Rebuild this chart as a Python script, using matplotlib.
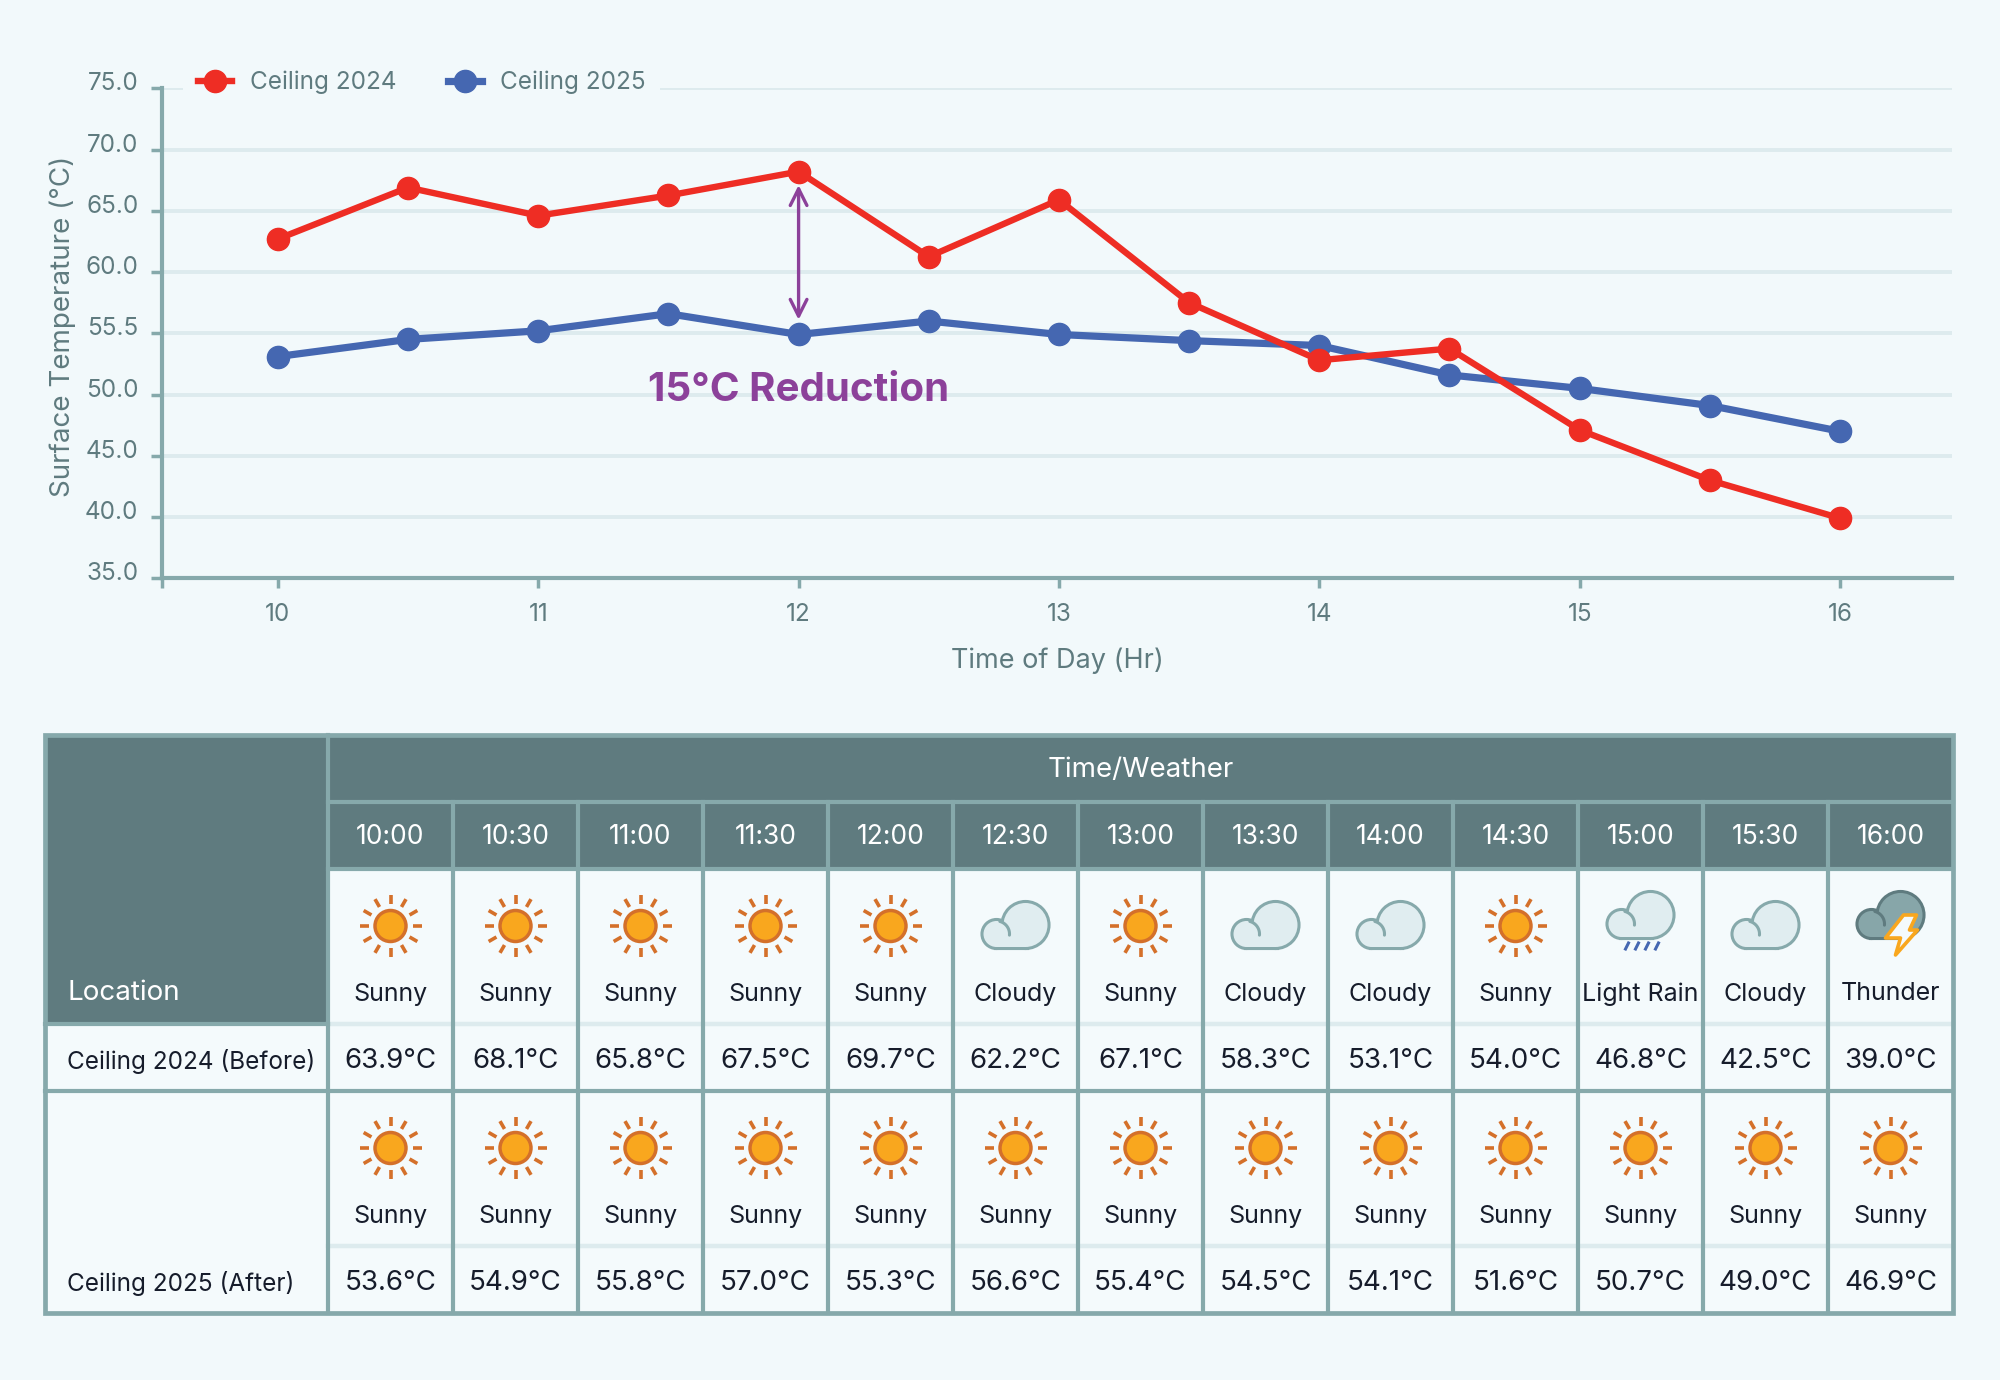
import numpy as np
import matplotlib
matplotlib.use("Agg")
import matplotlib.pyplot as plt
import matplotlib.transforms as mtransforms
from matplotlib.patches import Rectangle, Circle, Polygon

plt.rcParams['font.family'] = ['Inter', 'DejaVu Sans']

# --- dane wykresu ---
hours = [10, 10.5, 11, 11.5, 12, 12.5, 13, 13.5, 14, 14.5, 15, 15.5, 16]
curve_2024 = [62.7, 66.9, 64.6, 66.25, 68.2, 61.25, 65.9, 57.5, 52.8, 53.75, 47.1, 43.0, 39.9]
curve_2025 = [53.1, 54.5, 55.2, 56.6, 54.9, 56.0, 54.9, 54.4, 54.0, 51.6, 50.5, 49.1, 47.0]
series_names = ['Ceiling 2024', 'Ceiling 2025']

y_ticks = [35, 40, 45, 50, 55, 60, 65, 70, 75]
y_tick_labels = ['35.0', '40.0', '45.0', '50.0', '55.5', '60.0', '65.0', '70.0', '75.0']
x_ticks = [10, 11, 12, 13, 14, 15, 16]

arrow_hour = 12
arrow_span = (67.1, 56.1)
arrow_text = '15°C Reduction'

# --- dane tabeli ---
time_labels = ['10:00', '10:30', '11:00', '11:30', '12:00', '12:30', '13:00',
               '13:30', '14:00', '14:30', '15:00', '15:30', '16:00']
weather_2024 = ['Sunny', 'Sunny', 'Sunny', 'Sunny', 'Sunny', 'Cloudy', 'Sunny',
                'Cloudy', 'Cloudy', 'Sunny', 'Light Rain', 'Cloudy', 'Thunder']
weather_2025 = ['Sunny'] * 13
temps_2024 = [63.9, 68.1, 65.8, 67.5, 69.7, 62.2, 67.1, 58.3, 53.1, 54.0, 46.8, 42.5, 39.0]
temps_2025 = [53.6, 54.9, 55.8, 57.0, 55.3, 56.6, 55.4, 54.5, 54.1, 51.6, 50.7, 49.0, 46.9]
row_labels = ['Ceiling 2024 (Before)', 'Ceiling 2025 (After)']

# --- kolory ---
BG = '#F2F9FB'
CELL = '#F4FAFC'
GREY = '#5F7B7F'
SPINE = '#86A9AB'
GRID = '#DDEBEE'
RED = '#EE2D24'
BLUE = '#4567B1'
PURPLE = '#8C419A'
DARK = '#161C2B'
SUN_FILL = '#F9A71E'
SUN_EDGE = '#D4702A'

fig = plt.figure(figsize=(20, 13.8), dpi=100, facecolor=BG)

# ============ wykres ============
ax = fig.add_axes([0.081, 0.581, 0.895, 0.355])
ax.set_facecolor(BG)
ax.plot(hours, curve_2024, '-o', color=RED, lw=4.6, ms=16, label=series_names[0], zorder=4)
ax.plot(hours, curve_2025, '-o', color=BLUE, lw=5.2, ms=16, label=series_names[1], zorder=3)

ax.set_xlim(9.555, 16.43)
ax.set_ylim(35, 75)
ax.set_yticks(y_ticks)
ax.set_yticklabels(y_tick_labels)
ax.set_xticks([9.555] + x_ticks)
ax.set_xticklabels([''] + [str(h) for h in x_ticks])
ax.tick_params(axis='y', colors=SPINE, labelcolor=GREY, labelsize=17.5, length=8, width=2.5, pad=9)
ax.tick_params(axis='x', colors=SPINE, labelcolor=GREY, labelsize=17.5, length=7, width=2.5, pad=11)
ax.yaxis.grid(True, color=GRID, lw=2.8)
ax.set_axisbelow(True)
for s in ['top', 'right']:
    ax.spines[s].set_visible(False)
for s in ['left', 'bottom']:
    ax.spines[s].set_color(SPINE)
    ax.spines[s].set_linewidth(3)

shift = mtransforms.ScaledTranslation(0, 0.07, fig.dpi_scale_trans)
for lab in ax.get_yticklabels():
    lab.set_transform(lab.get_transform() + shift)

ax.set_xlabel('Time of Day (Hr)', fontsize=19.5, color=GREY, labelpad=15)
ax.set_ylabel('Surface Temperature (°C)', fontsize=20, color=GREY)
ax.yaxis.set_label_coords(-0.048, 0.515)

ax.annotate('', xy=(arrow_hour, arrow_span[1]), xytext=(arrow_hour, arrow_span[0]),
            arrowprops=dict(arrowstyle='<->', color=PURPLE, lw=2.4, mutation_scale=30,
                            shrinkA=0, shrinkB=0), zorder=5)
ax.text(arrow_hour, 49.45, arrow_text, color=PURPLE, fontsize=29, fontweight='bold',
        ha='center', va='baseline', zorder=5)

leg = ax.legend(loc='center left', bbox_to_anchor=(0.012, 1.012), ncol=2, frameon=True,
                facecolor=BG, edgecolor='none', framealpha=1, fontsize=17.5,
                handlelength=1.4, handletextpad=0.75, columnspacing=2.1,
                borderpad=0.6, borderaxespad=0)
for t in leg.get_texts():
    t.set_color(GREY)
leg.set_zorder(6)

# ============ tabela ============
tx = fig.add_axes([0, 0, 1, 1], zorder=-1)
tx.set_xlim(0, 2000)
tx.set_ylim(1380, 0)
tx.axis('off')
tx.patch.set_alpha(0)

x0, xl, cw = 45, 328, 125
ncol = len(time_labels)
x1 = xl + ncol * cw
y_top, y_h1, y_h2 = 735, 802, 869
row_h = 222
y_rows = [y_h2, y_h2 + row_h]       # gorne krawedzie blokow
y_sep = [1024, 1024 + row_h]        # linia miedzy ikona a temperatura
y_end = y_h2 + 2 * row_h

tx.add_patch(Rectangle((x0, y_top), x1 - x0, y_end - y_top, fc=CELL, ec='none'))
tx.add_patch(Rectangle((x0, y_top), x1 - x0, y_h2 - y_top, fc=GREY, ec='none'))
tx.add_patch(Rectangle((x0, y_top), xl - x0, y_sep[0] - y_top, fc=GREY, ec='none'))

LW = 3.0
# cienkie separatory
for ys in y_sep:
    tx.plot([xl, x1], [ys, ys], color=GRID, lw=3.2, zorder=1)
# linie poziome
for yy in [y_h1, y_h2]:
    tx.plot([xl, x1], [yy, yy], color=SPINE, lw=LW, zorder=2)
tx.plot([x0, xl], [y_sep[0], y_sep[0]], color=SPINE, lw=LW, zorder=2)
tx.plot([x0, x1], [y_rows[1], y_rows[1]], color=SPINE, lw=LW, zorder=2)
# linie pionowe
tx.plot([xl, xl], [y_top, y_end], color=SPINE, lw=LW, zorder=2)
for i in range(1, ncol):
    xx = xl + i * cw
    tx.plot([xx, xx], [y_h1, y_end], color=SPINE, lw=LW, zorder=2)
tx.add_patch(Rectangle((x0, y_top), x1 - x0, y_end - y_top, fc='none', ec=SPINE, lw=3.4, zorder=3))

# teksty naglowka
tx.text((xl + x1) / 2, (y_top + y_h1) / 2 + 1, 'Time/Weather', color='white', fontsize=20,
        ha='center', va='center')
for i, t in enumerate(time_labels):
    tx.text(xl + (i + 0.5) * cw, (y_h1 + y_h2) / 2 + 2, t, color='white', fontsize=19,
            ha='center', va='center')
tx.text(67, 993, 'Location', color='white', fontsize=20, ha='left', va='center')


def draw_sun(cx, cy):
    tx.add_patch(Circle((cx, cy), 15.5, fc=SUN_FILL, ec=SUN_EDGE, lw=2.5, zorder=5))
    for k in range(12):
        a = np.deg2rad(k * 30)
        tx.plot([cx + 22 * np.cos(a), cx + 31 * np.cos(a)],
                [cy + 22 * np.sin(a), cy + 31 * np.sin(a)],
                color=SUN_EDGE, lw=2.6, solid_capstyle='butt', zorder=5)


def draw_cloud(cx, cy, fill, edge):
    big = ((cx + 10, cy - 1), 22)
    small = ((cx - 19, cy + 8), 13)
    rect = (cx - 19, cy + 8, 29, 13)
    for z, kw in [(5, dict(fc=edge, ec=edge, lw=4.4)), (6, dict(fc=fill, ec='none'))]:
        tx.add_patch(Circle(big[0], big[1], zorder=z, **kw))
        tx.add_patch(Circle(small[0], small[1], zorder=z, **kw))
        tx.add_patch(Rectangle(rect[:2], rect[2], rect[3], zorder=z, **kw))
    t = np.deg2rad(np.linspace(75, -5, 30))
    tx.plot(small[0][0] + small[1] * np.cos(t), small[0][1] - small[1] * np.sin(t),
            color=edge, lw=2.2, zorder=7, solid_capstyle='round')


def draw_icon(kind, cx, cy):
    if kind == 'Sunny':
        draw_sun(cx, cy)
    elif kind == 'Cloudy':
        draw_cloud(cx, cy, '#E0EDF0', SPINE)
    elif kind == 'Light Rain':
        draw_cloud(cx, cy - 10, '#E0EDF0', SPINE)
        for k in range(4):
            bx = cx - 14 + k * 10
            tx.plot([bx + 2, bx - 1], [cy + 17, cy + 23], color=BLUE, lw=2.2, zorder=5)
    elif kind == 'Thunder':
        draw_cloud(cx, cy - 10, '#87A6A9', GREY)
        bolt = [(13, -11), (26, -11), (19, 4), (27, 4), (5, 29), (10, 12), (-5, 12)]
        tx.add_patch(Polygon([(cx + a, cy + b) for a, b in bolt], closed=True,
                             fc=CELL, ec=SUN_FILL, lw=2.6, joinstyle='round', zorder=8))


blocks = [(weather_2024, temps_2024), (weather_2025, temps_2025)]
for r, (weather, temps) in enumerate(blocks):
    top = y_rows[r]
    for i in range(ncol):
        cx = xl + (i + 0.5) * cw
        draw_icon(weather[i], cx, top + 57)
        tx.text(cx, top + 125, weather[i], color=DARK, fontsize=18, ha='center', va='center')
        tx.text(cx, top + 192, f'{temps[i]:.1f}°C', color=DARK, fontsize=20,
                ha='center', va='center')
    tx.text(67, top + 192, row_labels[r], color=DARK, fontsize=17.5, ha='left', va='center')

fig.savefig('out.png', dpi=100, facecolor=BG)
